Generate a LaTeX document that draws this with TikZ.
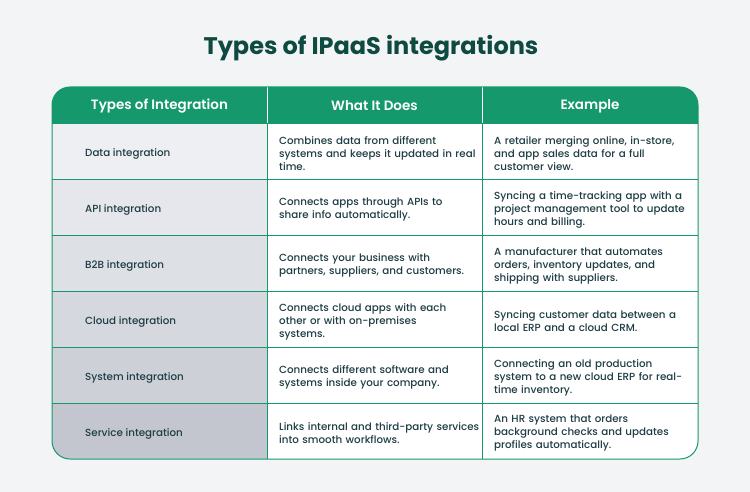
\documentclass[tikz,border=0pt]{standalone}
\usepackage{fontspec}
\setmainfont{Poppins}[UprightFont={* Medium},BoldFont={* Bold}]
\newfontfamily\semib{Poppins SemiBold}
\definecolor{bg}{HTML}{F3F4F6}
\definecolor{grn}{HTML}{14986C}
\definecolor{ink}{HTML}{1E3D44}
\definecolor{ttl}{HTML}{0E4A40}
\begin{document}
\begin{tikzpicture}[x=1pt,y=-1pt,
  cell/.style={anchor=west,align=left,text width=205pt,font=\fontsize{10.3}{13}\selectfont,text=ink,inner sep=0pt},
  first/.style={anchor=west,font=\fontsize{10.3}{13}\selectfont,text=ink,inner sep=0pt},
  head/.style={font=\semib\fontsize{13.5}{16}\selectfont,text=white,inner sep=0pt}]
\fill[bg] (0,0) rectangle (750,492);
\node[font=\bfseries\fontsize{24}{27}\selectfont,text=ttl] (title) at (371,48) {Types of IPaaS integrations};
\begin{scope}
\clip[rounded corners=18pt] (52,87) rectangle (698,459);
\fill[white] (52,87) rectangle (698,459);
\fill[grn] (52,87) rectangle (698,123);
\foreach \c [count=\i from 0] in {EDEFF3,E5E7EC,DDE0E5,D5D8DE,CDD0D7,C3C6CE}{
  \definecolor{rc}{HTML}{\c}
  \fill[rc] (52,123+56*\i) rectangle (267,179+56*\i);}
\foreach \i in {1,...,5} \draw[grn,line width=0.8pt] (52,123+56*\i) -- (698,123+56*\i);
\draw[grn,line width=0.8pt] (52,123) -- (698,123);
\draw[grn,line width=0.8pt] (267,87) -- (267,459) (482,87) -- (482,459);
\draw[white,line width=0.8pt] (267,87) -- (267,123) (482,87) -- (482,123);
\end{scope}
\draw[grn,line width=1pt,rounded corners=18pt] (52,87) rectangle (698,459);
\node[head] (h1) at (159.5,106) {Types of Integration};
\node[head] (h2) at (374.5,106) {What It Does};
\node[head] (h3) at (590,106) {Example};
\foreach \a/\b/\c [count=\i from 0] in {
 {Data integration}/{Combines data from different\\systems and keeps it updated in real\\time.}/{A retailer merging online, in-store,\\and app sales data for a full\\customer view.},
 {API integration}/{Connects apps through APIs to\\share info automatically.}/{Syncing a time-tracking app with a\\project management tool to update\\hours and billing.},
 {B2B integration}/{Connects your business with\\partners, suppliers, and customers.}/{A manufacturer that automates\\orders, inventory updates, and\\shipping with suppliers.},
 {Cloud integration}/{Connects cloud apps with each\\other or with on-premises\\systems.}/{Syncing customer data between a\\local ERP and a cloud CRM.},
 {System integration}/{Connects different software and\\systems inside your company.}/{Connecting an old production\\system to a new cloud ERP for real-\\time inventory.},
 {Service integration}/{Links internal and third-party services\\into smooth workflows.}/{An HR system that orders\\background checks and updates\\profiles automatically.}}{
 \node[first] (a\i) at (85,153.5+56*\i) {\a};
 \node[cell] (b\i) at (279,153.5+56*\i) {\b};
 \node[cell] (c\i) at (494,153.5+56*\i) {\c};
}
\end{tikzpicture}
\end{document}
